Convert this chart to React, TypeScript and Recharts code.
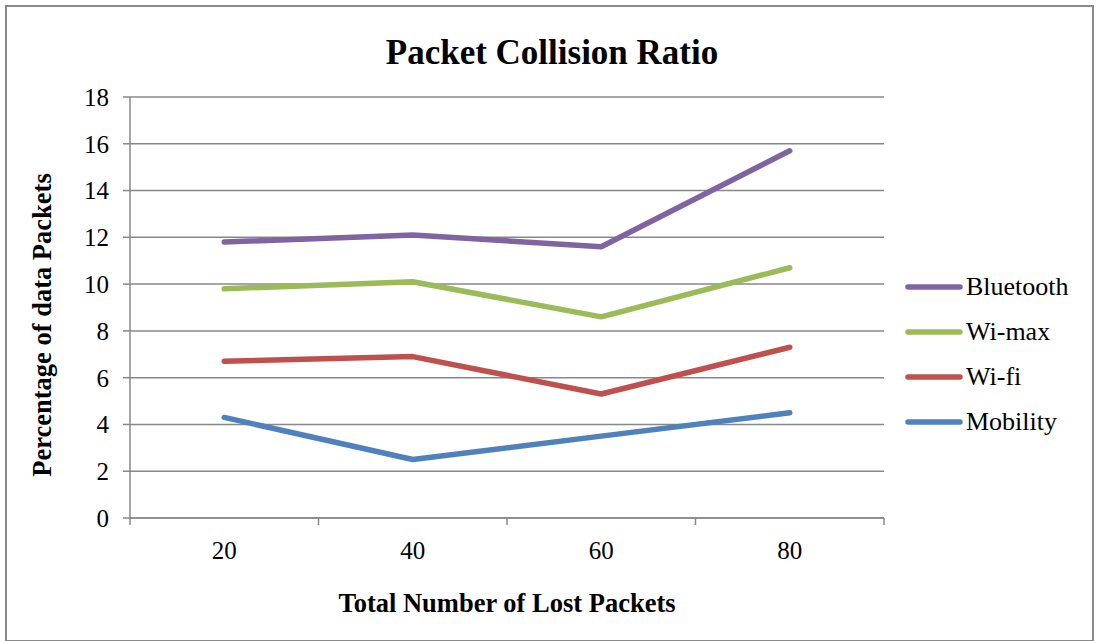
import React from 'react';
import { CartesianGrid, Legend, Line, LineChart, XAxis, YAxis } from 'recharts';

const PACKETS = [20, 40, 60, 80];
const BLUETOOTH = [11.8, 12.1, 11.6, 15.7];
const WIMAX = [9.8, 10.1, 8.6, 10.7];
const WIFI = [6.7, 6.9, 5.3, 7.3];
const MOBILITY = [4.3, 2.5, 3.5, 4.5];

const Y_TICKS = [0, 2, 4, 6, 8, 10, 12, 14, 16, 18];
// category boundaries (where the small tick marks go) and the category centres
const X_TICKS = [10, 20, 30, 40, 50, 60, 70, 80, 90];

const SERIES = [
  { key: 'mobility', name: 'Mobility', color: '#4f81bd' },
  { key: 'wifi', name: 'Wi-fi', color: '#c0504d' },
  { key: 'wimax', name: 'Wi-max', color: '#9bbb59' },
  { key: 'bluetooth', name: 'Bluetooth', color: '#8064a2' },
];

const data = PACKETS.map((p, i) => ({
  packets: p,
  bluetooth: BLUETOOTH[i],
  wimax: WIMAX[i],
  wifi: WIFI[i],
  mobility: MOBILITY[i],
}));

const FONT = '"Liberation Serif", "Times New Roman", serif';
const GRID = '#888888';

function XTick(props: any) {
  const { x, y, payload } = props;
  if (PACKETS.includes(payload.value)) {
    return (
      <text x={x} y={y + 32} textAnchor="middle" dominantBaseline="central" fontSize={25} fontFamily={FONT} fill="#000">
        {payload.value}
      </text>
    );
  }
  return <line x1={x} x2={x} y1={y} y2={y + 7} stroke={GRID} strokeWidth={1.5} />;
}

function LegendBox() {
  const items = [...SERIES].reverse();
  return (
    <div style={{ fontFamily: FONT, fontSize: 26 }}>
      {items.map((s) => (
        <div key={s.key} style={{ display: 'flex', alignItems: 'center', height: 45 }}>
          <svg width={60} height={10}>
            <line x1={4} x2={56} y1={5} y2={5} stroke={s.color} strokeWidth={5.5} strokeLinecap="round" />
          </svg>
          <span style={{ marginLeft: 2, color: '#000' }}>{s.name}</span>
        </div>
      ))}
    </div>
  );
}

export default function App() {
  return (
    <div style={{ position: 'absolute', left: 0, top: 0, width: 1097, height: 641, background: '#fff', fontFamily: FONT }}>
      <div
        style={{
          position: 'absolute',
          left: 5,
          top: 5,
          width: 1085,
          height: 633,
          border: '2px solid #8a8a8a',
        }}
      />
      <div style={{ position: 'absolute', left: 0, width: 1104, top: 33, textAlign: 'center', fontSize: 35, fontWeight: 'bold' }}>
        Packet Collision Ratio
      </div>
      <div
        style={{
          position: 'absolute',
          left: 42,
          top: 325,
          transform: 'translate(-50%, -50%) rotate(-90deg)',
          whiteSpace: 'nowrap',
          fontSize: 26.5,
          fontWeight: 'bold',
        }}
      >
        Percentage of data Packets
      </div>
      <div style={{ position: 'absolute', left: 130, width: 754, top: 588, textAlign: 'center', fontSize: 26.5, fontWeight: 'bold' }}>
        Total Number of Lost Packets
      </div>
      <div style={{ position: 'absolute', left: 0, top: 0 }}>
        <LineChart width={1097} height={641} data={data} margin={{ top: 97, right: 213, bottom: 93, left: 70 }}>
          <CartesianGrid horizontal vertical={false} stroke={GRID} strokeWidth={1.5} />
          <XAxis
            dataKey="packets"
            type="number"
            domain={[10, 90]}
            ticks={X_TICKS}
            interval={0}
            height={30}
            tickSize={0}
            tickMargin={0}
            tickLine={false}
            axisLine={{ stroke: GRID, strokeWidth: 1.5 }}
            tick={<XTick />}
          />
          <YAxis
            domain={[0, 18]}
            ticks={Y_TICKS}
            interval={0}
            width={60}
            tickSize={7}
            tickMargin={14}
            axisLine={{ stroke: GRID, strokeWidth: 1.5 }}
            tickLine={{ stroke: GRID, strokeWidth: 1.5 }}
            tick={{ fontSize: 25, fontFamily: FONT, fill: '#000' }}
          />
          <Legend
            layout="vertical"
            align="center"
            verticalAlign="middle"
            content={<LegendBox />}
            wrapperStyle={{ position: 'absolute', left: 904, top: 264, width: 190 }}
          />
          {SERIES.map((s) => (
            <Line
              key={s.key}
              type="linear"
              dataKey={s.key}
              name={s.name}
              stroke={s.color}
              strokeWidth={5.5}
              strokeLinecap="round"
              strokeLinejoin="round"
              dot={false}
              activeDot={false}
              isAnimationActive={false}
            />
          ))}
        </LineChart>
      </div>
    </div>
  );
}
